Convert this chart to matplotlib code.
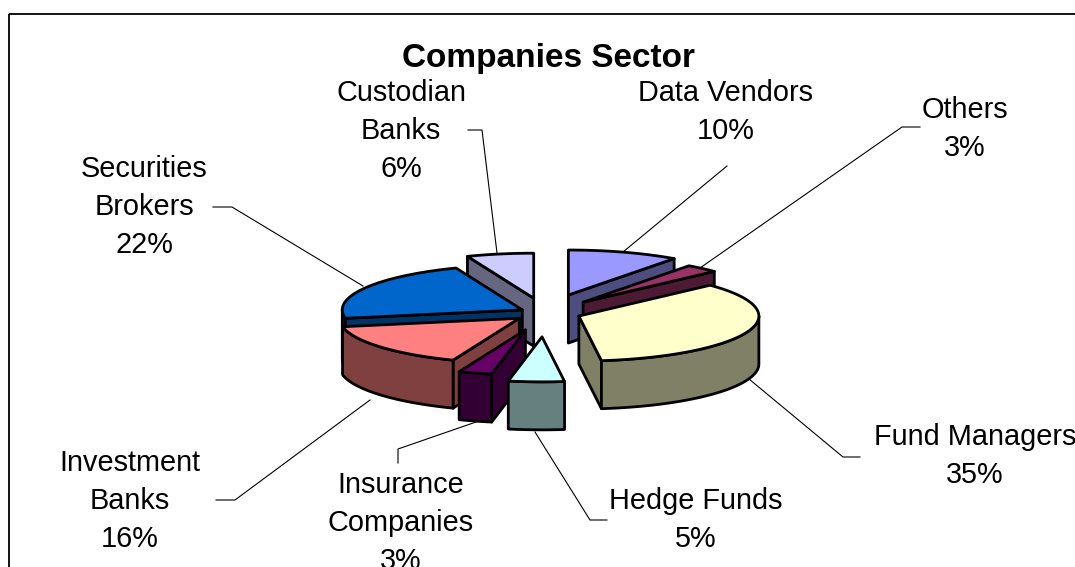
import numpy as np
import matplotlib
matplotlib.use("Agg")
import matplotlib.pyplot as plt
from matplotlib.patches import Rectangle

# starting at 12 o'clock, going clockwise
categories = ["Data Vendors", "Others", "Fund Managers", "Hedge Funds",
              "Insurance\nCompanies", "Investment\nBanks",
              "Securities\nBrokers", "Custodian\nBanks"]
shares = [10, 3, 35, 5, 3, 16, 22, 6]
title = "Companies Sector"

explode = [0.42, 0.32, 0.20, 0.53, 0.39, 0.185, 0.144, 0.335]
top_colors = ["#9999FF", "#993366", "#FFFFCC", "#CCFFFF",
              "#660066", "#FF8080", "#0066CC", "#CCCCFF"]
side_colors = ["#4D4D80", "#4D1A33", "#808066", "#668080",
               "#330033", "#804040", "#003366", "#666680"]

# label centre and leader line, in pixels
label_pos = [(726, 112), (965, 129), (975, 456), (696, 520),
             (401, 523), (130, 501), (144, 207), (401, 131)]
leaders = [[(727, 166), (623, 252)],
           [(920, 127), (902, 127), (700, 268)],
           [(749, 379), (843, 457), (860, 457)],
           [(535, 432), (590, 520), (607, 520)],
           [(476, 422), (398, 449), (398, 463)],
           [(370, 400), (235, 500), (216, 500)],
           [(363, 286), (232, 207), (213, 207)],
           [(497, 253), (482, 130), (468, 130)]]

CX, CY = 545, 313
RX, RY = 180, 45
DEPTH = 48
LW = 2.0
FONT = "Liberation Sans"


def rim(apex, a, b):
    """points of the arc between the angles a and b (degrees, clockwise)"""
    t = np.radians(np.linspace(a, b, 80))
    return np.column_stack((apex[0] + RX * np.sin(t),
                            apex[1] - RY * np.cos(t)))


def wall(ax, pts, color):
    """extrude a top edge downwards into a side wall"""
    low = pts[::-1] + np.array([0, DEPTH])
    ax.fill(*np.vstack((pts, low)).T, facecolor=color, edgecolor="black",
            linewidth=LW, joinstyle="round")


def draw_slice(ax, apex, a, b, top, side):
    for angle, visible in ((a, np.sin(np.radians(a)) < 0),
                           (b, np.sin(np.radians(b)) > 0)):
        if visible:
            wall(ax, np.vstack((apex, rim(apex, angle, angle)[:1])), side)
    lo, hi = max(a, 90), min(b, 270)
    if lo < hi:
        wall(ax, rim(apex, lo, hi), side)
    ax.fill(*np.vstack((apex, rim(apex, a, b))).T, facecolor=top,
            edgecolor="black", linewidth=LW, joinstyle="round")


def draw_pie(ax):
    edges = np.cumsum([0] + shares) * 3.6
    slices = []
    for i in range(len(shares)):
        mid = np.radians((edges[i] + edges[i + 1]) / 2)
        apex = (CX + explode[i] * RX * np.sin(mid),
                CY - explode[i] * RY * np.cos(mid))
        slices.append((apex, edges[i], edges[i + 1],
                       top_colors[i], side_colors[i]))
    # back to front
    for s in sorted(slices, key=lambda s: s[0][1]):
        draw_slice(ax, *s)


def main():
    fig = plt.figure(figsize=(10.75, 5.67), dpi=100)
    ax = fig.add_axes([0, 0, 1, 1])
    ax.set_xlim(0, 1075)
    ax.set_ylim(567, 0)
    ax.axis("off")

    ax.add_patch(Rectangle((9, 14), 1200, 700, fill=False,
                           edgecolor="black", linewidth=1.3))
    draw_pie(ax)

    for pts in leaders:
        ax.plot(*zip(*pts), color="black", linewidth=0.8)
    for name, share, pos in zip(categories, shares, label_pos):
        ax.text(pos[0], pos[1], "%s\n%d%%" % (name, share), ha="center",
                va="center", multialignment="center", family=FONT,
                fontsize=20.8, linespacing=1.45, color="black")
    ax.text(549, 58, title, ha="center", va="center", family=FONT,
            fontsize=24, fontweight="bold")
    fig.savefig("out.png", dpi=100)


if __name__ == "__main__":
    main()
